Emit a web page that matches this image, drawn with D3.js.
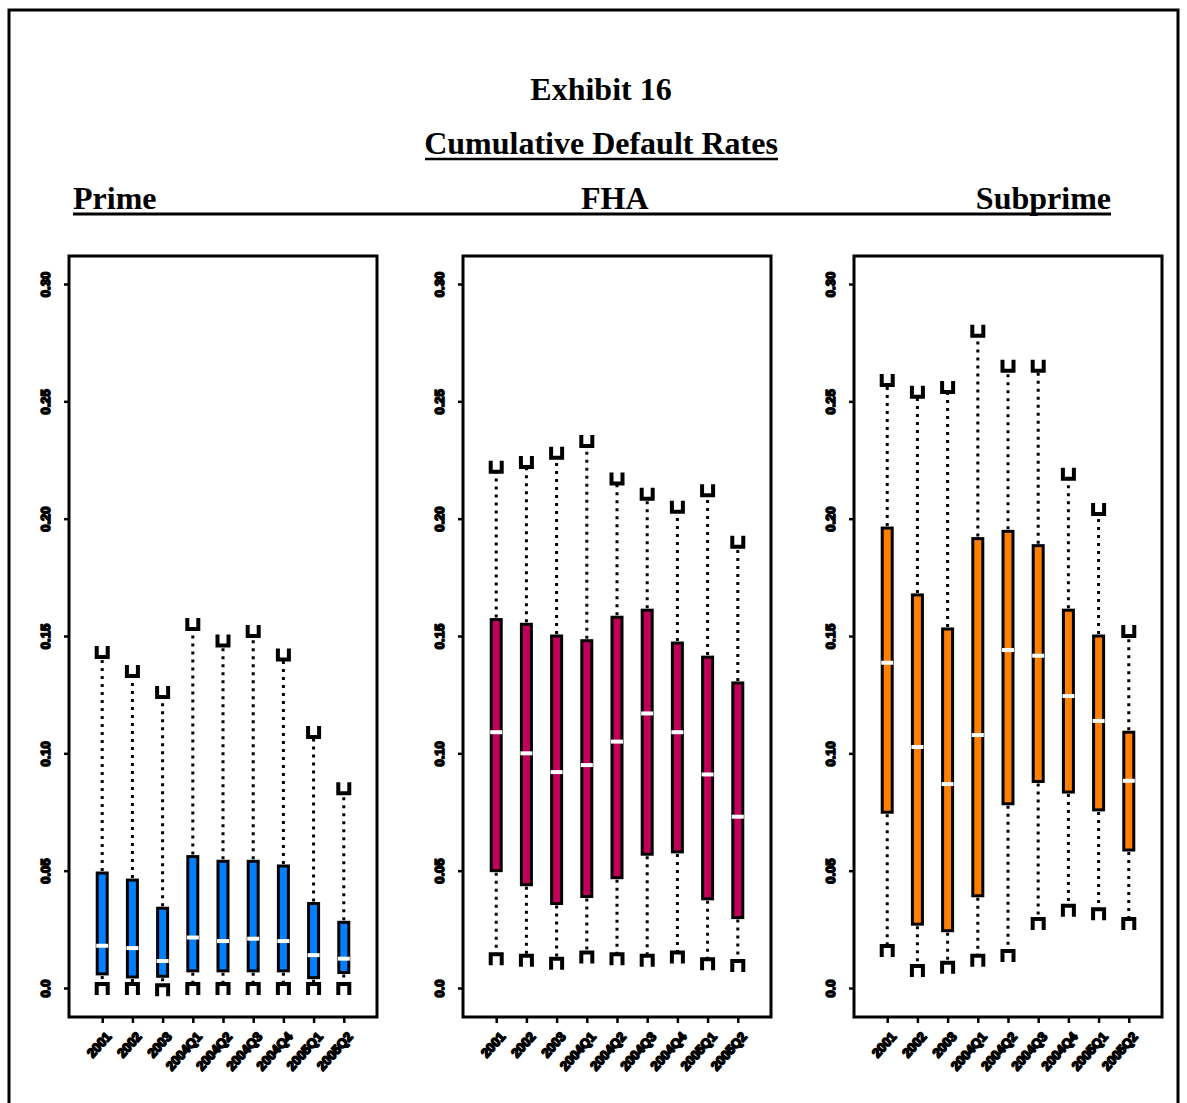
<!DOCTYPE html>
<meta charset="utf-8">
<style>

body {
  margin: 0;
  background: #fff;
}

.title {
  font: bold 32px "Liberation Serif", "Times New Roman", serif;
  fill: #000;
}

.tick text {
  font: bold 13px "Liberation Sans", Arial, sans-serif;
  fill: #000;
  stroke: #000;
  stroke-width: 1.6px;
  stroke-linejoin: round;
}

.tick line {
  stroke: #000;
  stroke-width: 2.5px;
}

</style>
<svg width="1187" height="1103"></svg>
<script src="https://cdn.jsdelivr.net/npm/d3@7"></script>
<script>

// vintages on the x axis
var categories = ["2001", "2002", "2003", "2004Q1", "2004Q2", "2004Q3", "2004Q4", "2005Q1", "2005Q2"];
var yTicks = [0, 0.05, 0.10, 0.15, 0.20, 0.25, 0.30];
var panelNames = ["Prime", "FHA", "Subprime"];

// box statistics
var primeHi  = [0.141, 0.133, 0.124, 0.153, 0.146, 0.150, 0.140, 0.107, 0.083],
    primeQ3  = [0.049, 0.046, 0.034, 0.056, 0.054, 0.054, 0.052, 0.036, 0.028],
    primeMed = [0.018, 0.017, 0.0115, 0.0215, 0.020, 0.021, 0.020, 0.014, 0.0125],
    primeQ1  = [0.006, 0.0047, 0.005, 0.0073, 0.0073, 0.0073, 0.0073, 0.0044, 0.0066],
    primeLo  = [0.0017, 0.0017, 0.0012, 0.0017, 0.0017, 0.0017, 0.0017, 0.0017, 0.0017];

var fhaHi  = [0.220, 0.222, 0.226, 0.231, 0.215, 0.2085, 0.203, 0.210, 0.188],
    fhaQ3  = [0.157, 0.155, 0.150, 0.148, 0.158, 0.161, 0.147, 0.141, 0.130],
    fhaMed = [0.109, 0.100, 0.092, 0.095, 0.105, 0.117, 0.109, 0.091, 0.073],
    fhaQ1  = [0.050, 0.044, 0.036, 0.039, 0.047, 0.057, 0.058, 0.038, 0.030],
    fhaLo  = [0.0144, 0.0137, 0.0125, 0.0151, 0.0144, 0.0137, 0.0151, 0.0123, 0.0115];

var subHi  = [0.257, 0.252, 0.254, 0.278, 0.263, 0.263, 0.217, 0.202, 0.150],
    subQ3  = [0.196, 0.1675, 0.153, 0.1915, 0.1946, 0.1885, 0.161, 0.150, 0.109],
    subMed = [0.1386, 0.1027, 0.0869, 0.1078, 0.144, 0.1416, 0.1244, 0.1138, 0.0883],
    subQ1  = [0.0749, 0.0272, 0.0244, 0.0393, 0.0785, 0.088, 0.0835, 0.0759, 0.0588],
    subLo  = [0.0179, 0.0094, 0.0108, 0.0137, 0.0158, 0.0294, 0.035, 0.0336, 0.0294];

var colors = ["#0080ff", "#c0005a", "#ff8000"];

var panels = [
  {hi: primeHi, q3: primeQ3, med: primeMed, q1: primeQ1, lo: primeLo},
  {hi: fhaHi, q3: fhaQ3, med: fhaMed, q1: fhaQ1, lo: fhaLo},
  {hi: subHi, q3: subQ3, med: subMed, q1: subQ1, lo: subLo}
];

var svg = d3.select("svg");

// page border
svg.append("path")
    .attr("d", "M9,1103V10H1178V1103")
    .attr("fill", "none")
    .attr("stroke", "#000")
    .attr("stroke-width", 3);

// headings
svg.append("text").attr("class", "title")
    .attr("x", 601).attr("y", 100)
    .attr("text-anchor", "middle")
    .text("Exhibit 16");

svg.append("text").attr("class", "title")
    .attr("x", 601).attr("y", 154)
    .attr("text-anchor", "middle")
    .text("Cumulative Default Rates");

svg.append("line")
    .attr("x1", 425).attr("x2", 778)
    .attr("y1", 159).attr("y2", 159)
    .attr("stroke", "#000").attr("stroke-width", 2.5);

svg.append("text").attr("class", "title").attr("x", 73).attr("y", 209).text(panelNames[0]);
svg.append("text").attr("class", "title").attr("x", 581).attr("y", 209).text(panelNames[1]);
svg.append("text").attr("class", "title").attr("x", 1111).attr("y", 209)
    .attr("text-anchor", "end").text(panelNames[2]);

svg.append("line")
    .attr("x1", 73).attr("x2", 1111)
    .attr("y1", 214).attr("y2", 214)
    .attr("stroke", "#000").attr("stroke-width", 3);

var panelLeft = [69, 463, 854],
    panelWidth = 308,
    panelTop = 256,
    panelBottom = 1017;

var y = d3.scaleLinear()
    .domain([0, 0.3])
    .range([988, 284]);

var x = d3.scalePoint()
    .domain(categories)
    .range([0, panelWidth])
    .padding(1.1);

var fmt = function(d) { return d === 0 ? "0.0" : d3.format(".2f")(d); };

panels.forEach(function(p, k) {
  var g = svg.append("g")
      .attr("transform", "translate(" + panelLeft[k] + ",0)");

  // y axis
  var ya = g.append("g")
      .call(d3.axisLeft(y).tickValues(yTicks).tickSize(5).tickFormat(fmt));
  ya.select(".domain").remove();
  ya.selectAll(".tick text")
      .attr("x", 0)
      .attr("y", -19)
      .attr("dy", 0)
      .attr("text-anchor", "middle")
      .attr("transform", "rotate(-90)");

  // x axis
  var xa = g.append("g")
      .attr("transform", "translate(0," + panelBottom + ")")
      .call(d3.axisBottom(x).tickSize(6));
  xa.select(".domain").remove();
  xa.selectAll(".tick text")
      .attr("x", 0)
      .attr("y", 0)
      .attr("dy", "0.35em")
      .attr("text-anchor", "end")
      .attr("transform", "translate(6,17) rotate(-48)");

  // frame
  g.append("rect")
      .attr("x", 0)
      .attr("y", panelTop)
      .attr("width", panelWidth)
      .attr("height", panelBottom - panelTop)
      .attr("fill", "none")
      .attr("stroke", "#000")
      .attr("stroke-width", 3);

  var box = g.selectAll(".box")
      .data(categories)
    .enter().append("g")
      .attr("class", "box")
      .attr("transform", function(d) { return "translate(" + x(d) + ",0)"; });

  // whiskers
  box.append("line")
      .attr("y1", function(d, i) { return y(p.q3[i]) - 2; })
      .attr("y2", function(d, i) { return y(p.hi[i]); })
      .attr("stroke", "#000").attr("stroke-width", 3)
      .attr("stroke-dasharray", "3,5");

  box.append("line")
      .attr("y1", function(d, i) { return y(p.q1[i]) + 2; })
      .attr("y2", function(d, i) { return y(p.lo[i]); })
      .attr("stroke", "#000").attr("stroke-width", 3)
      .attr("stroke-dasharray", "3,5");

  // caps
  box.append("path")
      .attr("d", function(d, i) {
        var v = y(p.hi[i]);
        return "M-5.5," + (v - 11) + "V" + v + "H5.5V" + (v - 11);
      })
      .attr("fill", "none").attr("stroke", "#000").attr("stroke-width", 4);

  box.append("path")
      .attr("d", function(d, i) {
        var v = y(p.lo[i]);
        return "M-5.5," + (v + 11) + "V" + v + "H5.5V" + (v + 11);
      })
      .attr("fill", "none").attr("stroke", "#000").attr("stroke-width", 4);

  // boxes
  box.append("rect")
      .attr("x", -5)
      .attr("width", 10)
      .attr("y", function(d, i) { return y(p.q3[i]); })
      .attr("height", function(d, i) { return y(p.q1[i]) - y(p.q3[i]); })
      .attr("fill", colors[k])
      .attr("stroke", "#000")
      .attr("stroke-width", 3);

  // medians
  box.append("rect")
      .attr("x", -6)
      .attr("width", 12)
      .attr("y", function(d, i) { return y(p.med[i]) - 2; })
      .attr("height", 4)
      .attr("fill", "#fff");
});

</script>
